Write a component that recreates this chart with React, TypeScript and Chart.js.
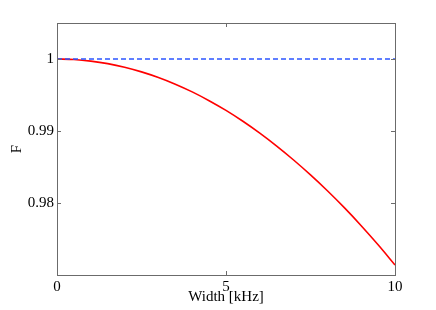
import React, { useEffect, useRef } from "react";
import { Chart, registerables } from "chart.js";

Chart.register(...registerables);

const widthKHz = [0, 0.5, 1, 1.5, 2, 2.5, 3, 3.5, 4, 4.5, 5, 5.5, 6, 6.5, 7, 7.5, 8, 8.5, 9, 9.5, 10];
const fidelity = [
  1.0, 0.99993, 0.99971, 0.99936, 0.99886, 0.99821, 0.99743, 0.9965, 0.99543, 0.99421, 0.99286,
  0.99135, 0.9897, 0.9879, 0.98597, 0.9839, 0.9817, 0.97935, 0.97685, 0.9742, 0.9714,
];
const referenceX = [0, 10];
const referenceF = [1, 1];
const xTickValues = [0, 5, 10];
const yTickValues = [0.98, 0.99, 1];
const yTickLabels = ["0.98", "0.99", "1"];

const FONT = { family: "'Liberation Serif', 'Times New Roman', serif", size: 15 };
const FRAME = "#6b6b6b";

const framePlugin = {
  id: "frame",
  afterDraw(chart: any) {
    const { ctx, chartArea } = chart;
    const { left, top, right, bottom } = chartArea;
    const xs = chart.scales.x;
    const ys = chart.scales.y;
    ctx.save();
    ctx.strokeStyle = FRAME;
    ctx.lineWidth = 1;
    ctx.strokeRect(Math.round(left) + 0.5, Math.round(top) + 0.5, Math.round(right - left), Math.round(bottom - top));
    const len = 4;
    ctx.beginPath();
    xs.ticks.forEach((t: any) => {
      const px = Math.round(xs.getPixelForValue(t.value)) + 0.5;
      ctx.moveTo(px, bottom);
      ctx.lineTo(px, bottom - len);
      ctx.moveTo(px, top);
      ctx.lineTo(px, top + len);
    });
    ys.ticks.forEach((t: any) => {
      const py = Math.round(ys.getPixelForValue(t.value)) + 0.5;
      ctx.moveTo(left, py);
      ctx.lineTo(left + len, py);
      ctx.moveTo(right, py);
      ctx.lineTo(right - len, py);
    });
    ctx.stroke();
    ctx.restore();
  },
};

export default function App() {
  const canvasRef = useRef<HTMLCanvasElement | null>(null);

  useEffect(() => {
    document.body.style.margin = "0";
    const canvas = canvasRef.current;
    if (!canvas) return;
    const chart = new Chart(canvas, {
      type: "line",
      data: {
        datasets: [
          {
            label: "reference",
            data: referenceX.map((x, i) => ({ x, y: referenceF[i] })),
            borderColor: "#2d55ff",
            borderWidth: 1.5,
            borderDash: [5, 3],
            pointRadius: 0,
            fill: false,
          },
          {
            label: "F",
            data: widthKHz.map((x, i) => ({ x, y: fidelity[i] })),
            borderColor: "#ff0000",
            borderWidth: 1.6,
            pointRadius: 0,
            tension: 0.4,
            cubicInterpolationMode: "monotone",
            fill: false,
          },
        ],
      },
      options: {
        animation: false,
        responsive: false,
        maintainAspectRatio: false,
        layout: { padding: { top: 23, right: 41, bottom: 0, left: 0 } },
        plugins: { legend: { display: false }, tooltip: { enabled: false } },
        scales: {
          x: {
            type: "linear",
            min: 0,
            max: 10,
            afterBuildTicks: (s: any) => {
              s.ticks = xTickValues.map((v) => ({ value: v }));
            },
            afterFit: (s: any) => {
              s.height = 35;
            },
            grid: { display: false, drawTicks: false },
            border: { display: false },
            ticks: { color: "#000", font: FONT, padding: 3, maxRotation: 0, callback: (v: any) => String(v) },
            title: { display: true, text: "Width [kHz]", color: "#000", font: FONT, padding: { top: 0, bottom: 4 } },
          },
          y: {
            type: "linear",
            min: 0.97,
            max: 1.005,
            afterBuildTicks: (s: any) => {
              s.ticks = yTickValues.map((v) => ({ value: v }));
            },
            afterFit: (s: any) => {
              s.width = 57;
            },
            grid: { display: false, drawTicks: false },
            border: { display: false },
            ticks: {
              color: "#000",
              font: FONT,
              padding: 3,
              callback: (v: any) => {
                const i = yTickValues.findIndex((t) => Math.abs(t - v) < 1e-9);
                return i >= 0 ? yTickLabels[i] : "";
              },
            },
            title: { display: true, text: "F", color: "#000", font: FONT, padding: { top: 8, bottom: 0 } },
          },
        },
      },
      plugins: [framePlugin],
    });
    return () => chart.destroy();
  }, []);

  return (
    <div style={{ position: "absolute", left: 0, top: 0, width: 436, height: 310, background: "#fff" }}>
      <canvas ref={canvasRef} width={436} height={310} style={{ display: "block" }} />
    </div>
  );
}
